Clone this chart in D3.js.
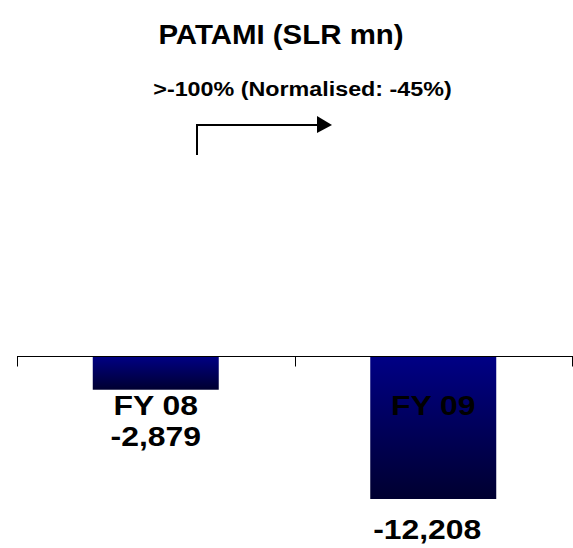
<!DOCTYPE html>
<html>
<head>
<meta charset="utf-8">
<script src="https://cdn.jsdelivr.net/npm/d3@7"></script>
<style>
  html, body { margin: 0; padding: 0; background: #fff; }
  svg { display: block; }
  text { font-family: "Liberation Sans", Arial, sans-serif; font-weight: bold; fill: #000; }
</style>
</head>
<body>
<svg id="chart" width="573" height="548"></svg>
<script>
// PATAMI in SLR mn, by financial year
const categories = ["FY 08", "FY 09"];
const values = [-2879, -12208];
const valueLabels = ["-2,879", "-12,208"];
const titleText = "PATAMI (SLR mn)";
const changeText = ">-100% (Normalised: -45%)";

const svg = d3.select("#chart");

const axisY = 356;
const x = d3.scaleBand()
  .domain(categories)
  .range([17, 572])
  .paddingInner(0.546)
  .paddingOuter(0.273);

const y = d3.scaleLinear()
  .domain([-15000, 0])
  .range([axisY + 175.7, axisY]);

// gradient fill for the bars: navy at the top fading towards near-black
const defs = svg.append("defs");
const grad = defs.append("linearGradient")
  .attr("id", "barGrad")
  .attr("x1", 0).attr("y1", 0).attr("x2", 0).attr("y2", 1);
grad.append("stop").attr("offset", "0%").attr("stop-color", "#000085");
grad.append("stop").attr("offset", "100%").attr("stop-color", "#000030");

// text with a slight horizontal stretch
function stretchedText(sel, tx, ty, str, size, sx) {
  return sel.append("text")
    .attr("transform", `translate(${tx},${ty}) scale(${sx},1)`)
    .attr("text-anchor", "middle")
    .style("font-size", size + "px")
    .text(str);
}

// title and growth note
stretchedText(svg, 281, 44, titleText, 27, 1.09);
stretchedText(svg, 302.5, 96, changeText, 21, 1.11);

// step arrow
svg.append("path")
  .attr("d", "M197,155 V125 H318")
  .attr("fill", "none")
  .attr("stroke", "#000")
  .attr("stroke-width", 2);
svg.append("path")
  .attr("d", "M317,116 L332,125 L317,133 Z")
  .attr("fill", "#000");

// bars
const data = categories.map((c, i) => ({ cat: c, v: values[i], label: valueLabels[i] }));
svg.selectAll("rect.bar")
  .data(data)
  .join("rect")
  .attr("class", "bar")
  .attr("x", d => x(d.cat))
  .attr("width", x.bandwidth())
  .attr("y", d => y(0))
  .attr("height", d => y(d.v) - y(0))
  .attr("fill", "url(#barGrad)");

// category axis along the zero line
const axis = svg.append("g");
axis.append("line")
  .attr("x1", x.range()[0]).attr("x2", x.range()[1])
  .attr("y1", axisY + 0.5).attr("y2", axisY + 0.5)
  .attr("stroke", "#000").attr("stroke-width", 1.2);
const boundaries = [x.range()[0], ...categories.slice(1).map(c => x(c) - x.step() * x.paddingInner() / 2), x.range()[1]];
axis.selectAll("line.tick")
  .data(boundaries)
  .join("line")
  .attr("class", "tick")
  .attr("x1", d => Math.round(d) + 0.5).attr("x2", d => Math.round(d) + 0.5)
  .attr("y1", axisY).attr("y2", axisY + 10.5)
  .attr("stroke", "#000").attr("stroke-width", 1);

// category labels and value labels
data.forEach(d => {
  const cx = x(d.cat) + x.bandwidth() / 2;
  stretchedText(svg, cx, axisY + 59, d.cat, 28, 1.14);
  stretchedText(svg, cx - (d.v < -10000 ? 6 : 0), Math.max(y(d.v) + 40, axisY + 90), d.label, 28, 1.14);
});
</script>
</body>
</html>
